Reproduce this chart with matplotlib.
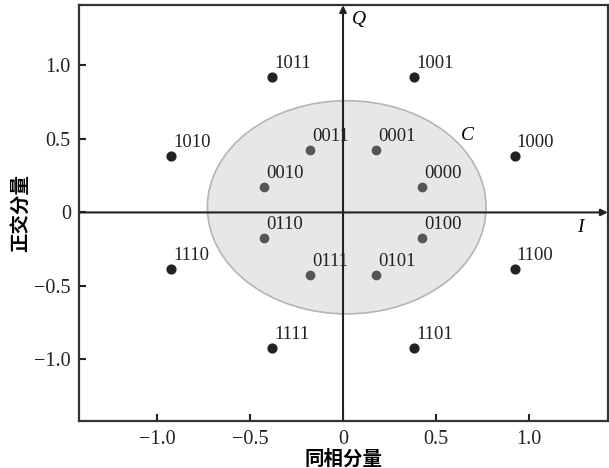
import matplotlib
matplotlib.use('Agg')
import matplotlib.pyplot as plt
from matplotlib.patches import Ellipse

plt.rcParams['font.family'] = ['Liberation Serif', 'Noto Sans CJK SC']

# Constellation points (inner ring: 0xxx, outer ring: 1xxx)
inner_x = [0.425, 0.176, -0.176, -0.425, -0.425, -0.176, 0.176, 0.425]
inner_y = [0.176, 0.425, 0.425, 0.176, -0.176, -0.425, -0.425, -0.176]
inner_lab = ['0000', '0001', '0011', '0010', '0110', '0111', '0101', '0100']

outer_x = [0.924, 0.383, -0.383, -0.924, -0.924, -0.383, 0.383, 0.924]
outer_y = [0.383, 0.924, 0.924, 0.383, -0.383, -0.924, -0.924, -0.383]
outer_lab = ['1000', '1001', '1011', '1010', '1110', '1111', '1101', '1100']

ticks = [-1.0, -0.5, 0, 0.5, 1.0]
tick_labels = ['\u22121.0', '\u22120.5', '0', '0.5', '1.0']

fig = plt.figure(figsize=(6.09, 4.68), dpi=100)
ax = fig.add_axes([0.130, 0.100, 0.868, 0.889])
ax.set_xlim(-1.42, 1.425)
ax.set_ylim(-1.42, 1.41)

# decision region C
ell = Ellipse((0.02, 0.035), 1.50, 1.45, facecolor='#e6e7e9', edgecolor='#b5b5b5',
              linewidth=1.2, zorder=1)
ax.add_patch(ell)

# I/Q axes with arrows
ax.annotate('', xy=(1.425, 0), xytext=(-1.42, 0),
            arrowprops=dict(arrowstyle='-|>', color='#222222', lw=1.5,
                            mutation_scale=10, shrinkA=0, shrinkB=0), zorder=2)
ax.annotate('', xy=(0, 1.41), xytext=(0, -1.42),
            arrowprops=dict(arrowstyle='-|>', color='#222222', lw=1.5,
                            mutation_scale=10, shrinkA=0, shrinkB=0), zorder=2)

ax.scatter(inner_x, inner_y, s=36, color='#555555', zorder=3)
ax.scatter(outer_x, outer_y, s=40, color='#222222', zorder=3)

for x, y, t in zip(inner_x + outer_x, inner_y + outer_y, inner_lab + outer_lab):
    ax.annotate(t, (x, y), xytext=(1.5, 3.5), textcoords='offset points',
                ha='left', va='bottom', fontsize=13.5, color='#222222')

ax.text(0.05, 1.31, 'Q', fontsize=14, style='italic', ha='left', va='center')
ax.text(1.26, -0.10, 'I', fontsize=14, style='italic', ha='left', va='center')
ax.text(0.67, 0.52, 'C', fontsize=14, style='italic', ha='center', va='center')

ax.set_xticks(ticks)
ax.set_xticklabels(tick_labels)
ax.set_yticks(ticks)
ax.set_yticklabels(tick_labels)
ax.tick_params(direction='in', length=5, width=1.5, labelsize=14.5, colors='#222222', pad=6)

for s in ax.spines.values():
    s.set_linewidth(1.6)
    s.set_color('#333333')

ax.set_xlabel('同相分量', fontsize=14, fontweight='bold', labelpad=1)
ax.set_ylabel('正交分量', fontsize=14, fontweight='bold', labelpad=3)

fig.savefig('out.png', dpi=100)
